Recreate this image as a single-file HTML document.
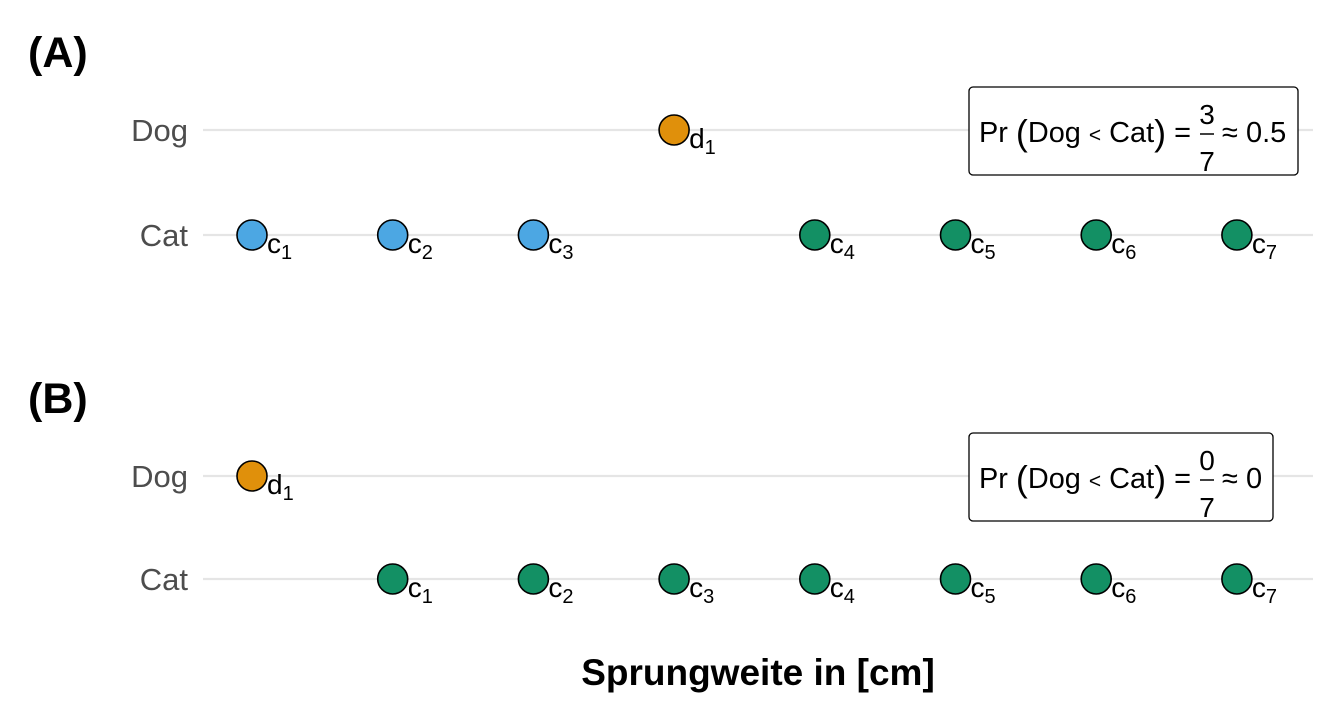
<!DOCTYPE html>
<html><head><meta charset="utf-8"><style>
html,body{margin:0;padding:0;background:#fff;}
svg{display:block;font-family:"Liberation Sans",sans-serif;}
</style></head><body>
<svg id="chart" width="1344" height="720" viewBox="0 0 1344 720">
  <text x="28" y="67" font-size="43" font-weight="bold">(A)</text>
  <text x="28" y="413" font-size="43" font-weight="bold">(B)</text>
  <text x="758" y="685" font-size="37" font-weight="bold" text-anchor="middle">Sprungweite in [cm]</text>
  <g id="plot"></g>
</svg>
<script>
const categories = ["Dog", "Cat"];
const panelA_dog = [4];
const panelA_cat = [1, 2, 3, 5, 6, 7, 8];
const panelA_catColor = ["blue", "blue", "blue", "green", "green", "green", "green"];
const panelB_dog = [1];
const panelB_cat = [2, 3, 4, 5, 6, 7, 8];
const panelB_catColor = ["green", "green", "green", "green", "green", "green", "green"];
const prNum = ["3", "0"];
const prDen = ["7", "7"];
const prApprox = ["0.5", "0"];

const NS = "http://www.w3.org/2000/svg";
const g = document.getElementById("plot");
const colors = {blue: "#4ca7e3", green: "#139064", orange: "#e0900b"};
function xs(v){ return 252 + (v - 1) * 140.7; }
function mk(tag, attrs, parent){
  const e = document.createElementNS(NS, tag);
  for (const k in attrs) e.setAttribute(k, attrs[k]);
  (parent || g).appendChild(e);
  return e;
}
const panels = [
  {dogY: 130, catY: 235, dog: panelA_dog, cat: panelA_cat, catCol: panelA_catColor, boxW: 329},
  {dogY: 476, catY: 579, dog: panelB_dog, cat: panelB_cat, catCol: panelB_catColor, boxW: 304}
];
panels.forEach((p, pi) => {
  [[p.dogY, categories[0]], [p.catY, categories[1]]].forEach(([y, name]) => {
    const ln = mk("line", {x1: 203, x2: 1313, y1: y, y2: y, stroke: "#e5e5e5", "stroke-width": 2.2});
    
    
    const t = mk("text", {x: 188, y: y + 11, "font-size": 31, fill: "#4d4d4d", "text-anchor": "end"});
    t.textContent = name;
    
    
  });
  const pts = [];
  p.dog.forEach((v, i) => pts.push({v, y: p.dogY, col: colors.orange, lbl: "d", idx: i + 1}));
  p.cat.forEach((v, i) => pts.push({v, y: p.catY, col: colors[p.catCol[i]], lbl: "c", idx: i + 1}));
  pts.forEach(pt => {
    const cx = xs(pt.v);
    const c = mk("circle", {cx: cx, cy: pt.y, r: 15, fill: pt.col, stroke: "#000", "stroke-width": 1.6});
    
    
    const t = mk("text", {x: cx + 15, y: pt.y + 18, "font-size": 28, fill: "#000"});
    
    
    t.textContent = pt.lbl;
    const s = mk("tspan", {"font-size": 20, dy: 6}, t);
    s.textContent = pt.idx;
  });
  const by = p.dogY - 43;
  const box = mk("rect", {x: 969, y: by, width: p.boxW, height: 88, rx: 4, fill: "#fff", stroke: "#000", "stroke-width": 1.3});
  
  
  const ty = p.dogY + 12;
  const t1 = mk("text", {x: 979, y: ty, "font-size": 29, textLength: 212, lengthAdjust: "spacingAndGlyphs"});
  
  
  t1.innerHTML = 'Pr <tspan font-size="36" dy="3">(</tspan><tspan dy="-3">Dog </tspan><tspan font-size="21">&lt;</tspan><tspan> Cat</tspan><tspan font-size="36" dy="3">)</tspan><tspan dy="-3"> =</tspan>';
  const fx = 1207;
  const n = mk("text", {x: fx, y: p.dogY - 6, "font-size": 28, "text-anchor": "middle"});
  n.textContent = prNum[pi];
  
  
  const fl = mk("line", {x1: fx - 7, x2: fx + 7, y1: p.dogY + 4, y2: p.dogY + 4, stroke: "#000", "stroke-width": 1.5});
  
  
  const d = mk("text", {x: fx, y: p.dogY + 41, "font-size": 28, "text-anchor": "middle"});
  d.textContent = prDen[pi];
  
  
  const a = mk("text", {x: fx + 15, y: ty, "font-size": 29});
  a.textContent = "≈ " + prApprox[pi];
  
  
});
</script>
</body></html>
